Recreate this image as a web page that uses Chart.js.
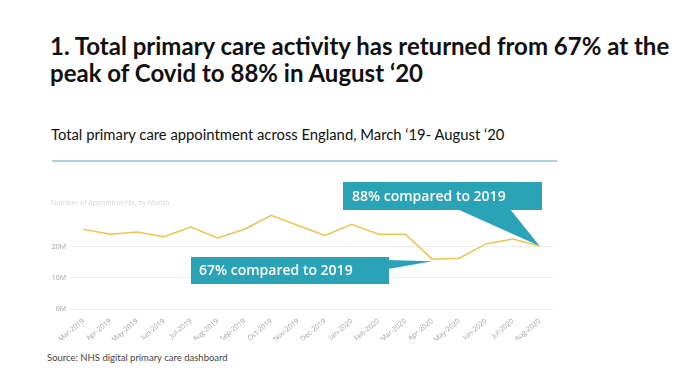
<!DOCTYPE html>
<html>
<head>
<meta charset="utf-8">
<script src="https://cdn.jsdelivr.net/npm/chart.js@4.4.1/dist/chart.umd.min.js"></script>
<style>
  html, body { margin: 0; padding: 0; background: #fff; }
  .slide { position: relative; width: 678px; height: 374px; overflow: hidden; font-family: Lato, "Open Sans", sans-serif; }
  .title { position: absolute; left: 50px; top: 32px; font-size: 24px; line-height: 27px; font-weight: 700; color: #111; white-space: nowrap; }
  .subtitle { position: absolute; left: 51px; top: 125px; font-size: 14.8px; line-height: 18px; color: #111; white-space: nowrap; }
  .rule { position: absolute; left: 52px; top: 160px; width: 505px; height: 2px; background: #a9d3de; }
  .source { position: absolute; left: 47px; top: 352px; font-size: 9.5px; line-height: 11px; color: #444; white-space: nowrap; }
  #wrap { position: absolute; left: 30px; top: 170px; width: 530px; height: 170px; }
</style>
</head>
<body>
<div class="slide">
  <div class="title">1. Total primary care activity has returned from 67% at the<br>peak of Covid to 88% in August ‘20</div>
  <div class="subtitle">Total primary care appointment across England, March ‘19- August ‘20</div>
  <div class="rule"></div>
  <div id="wrap"><canvas id="chart"></canvas></div>
  <div class="source">Source: NHS digital primary care dashboard</div>
</div>
<script>
/* data (millions of appointments) */
const months = ["Mar-2019", "Apr-2019", "May-2019", "Jun-2019", "Jul-2019", "Aug-2019", "Sep-2019", "Oct-2019", "Nov-2019",
  "Dec-2019", "Jan-2020", "Feb-2020", "Mar-2020", "Apr-2020", "May-2020", "Jun-2020", "Jul-2020", "Aug-2020"];
const appointments = [25.6, 24.0, 24.7, 23.2, 26.3, 22.8, 25.6, 30.1, 26.8, 23.6, 27.2, 24.0, 24.0, 16.0, 16.3, 20.9, 22.5, 20.2];
const yTicks = [0, 10, 20];
const axisTitle = "Number of Appointments, by Month";
const callouts = [
  { text: "67% compared to 2019", month: "Apr-2020" },
  { text: "88% compared to 2019", month: "Aug-2020" },
];

const TEAL = "#2ba3b6";

const annotations = {
  id: "annotations",
  afterDraw(chart) {
    const { ctx, scales } = chart;
    const xs = scales.x, ys = scales.y;

    ctx.save();
    // axis title, top left
    ctx.fillStyle = "#d6d6d6";
    ctx.font = "7px 'Open Sans'";
    ctx.textBaseline = "middle";
    ctx.fillText(axisTitle, 21, 33);

    const tip = (m) => {
      const i = months.indexOf(m);
      return { x: xs.getPixelForValue(i), y: ys.getPixelForValue(appointments[i]) };
    };

    // 67% box, pointer leaving its right edge
    let t = tip(callouts[0].month);
    let b = { x: 161, y: 87, w: 198, h: 27 };
    ctx.fillStyle = TEAL;
    ctx.fillRect(b.x, b.y, b.w, b.h);
    ctx.beginPath();
    ctx.moveTo(b.x + b.w - 1, b.y + 3);
    ctx.lineTo(t.x, t.y + 2);
    ctx.lineTo(b.x + b.w - 1, b.y + 12);
    ctx.closePath();
    ctx.fill();
    ctx.fillStyle = "#fff";
    ctx.font = "600 14px 'Open Sans'";
    ctx.textBaseline = "middle";
    ctx.fillText(callouts[0].text, b.x + 8, b.y + b.h / 2 + 1);

    // 88% box, pointer leaving its bottom edge
    t = tip(callouts[1].month);
    b = { x: 313, y: 12, w: 199, h: 28 };
    ctx.fillStyle = TEAL;
    ctx.fillRect(b.x, b.y, b.w, b.h);
    ctx.beginPath();
    ctx.moveTo(b.x + 114, b.y + b.h - 1);
    ctx.lineTo(t.x, t.y);
    ctx.lineTo(b.x + 167, b.y + b.h - 1);
    ctx.closePath();
    ctx.fill();
    ctx.fillStyle = "#fff";
    ctx.fillText(callouts[1].text, b.x + 9, b.y + b.h / 2 + 1);
    ctx.restore();
  },
};

Chart.register(annotations);

new Chart(document.getElementById("chart"), {
  type: "line",
  data: {
    labels: months,
    datasets: [{
      data: appointments,
      borderColor: "#f3c24f",
      borderWidth: 1.5,
      pointRadius: 0,
      tension: 0,
      fill: false,
    }],
  },
  options: {
    responsive: true,
    maintainAspectRatio: false,
    animation: false,
    layout: { padding: { top: 30, right: 7, left: 0, bottom: 0 } },
    plugins: { legend: { display: false }, tooltip: { enabled: false } },
    scales: {
      x: {
        offset: true,
        grid: { display: false },
        border: { display: false },
        ticks: {
          color: "#a0a0a0",
          font: { family: "Open Sans", size: 7 },
          minRotation: 40,
          maxRotation: 40,
          padding: 0,
          autoSkip: false,
        },
        afterFit(scale) { scale.height = 31; },
      },
      y: {
        min: 0,
        max: 35,
        grid: { color: "#eeeeee", drawTicks: false },
        border: { display: false },
        afterBuildTicks(scale) { scale.ticks = yTicks.map((v) => ({ value: v })); },
        ticks: {
          color: "#a0a0a0",
          font: { family: "Open Sans", size: 7 },
          padding: 4,
          callback: (v) => v + "M",
        },
        afterFit(scale) { scale.width = 40; },
      },
    },
  },
});
</script>
</body>
</html>
